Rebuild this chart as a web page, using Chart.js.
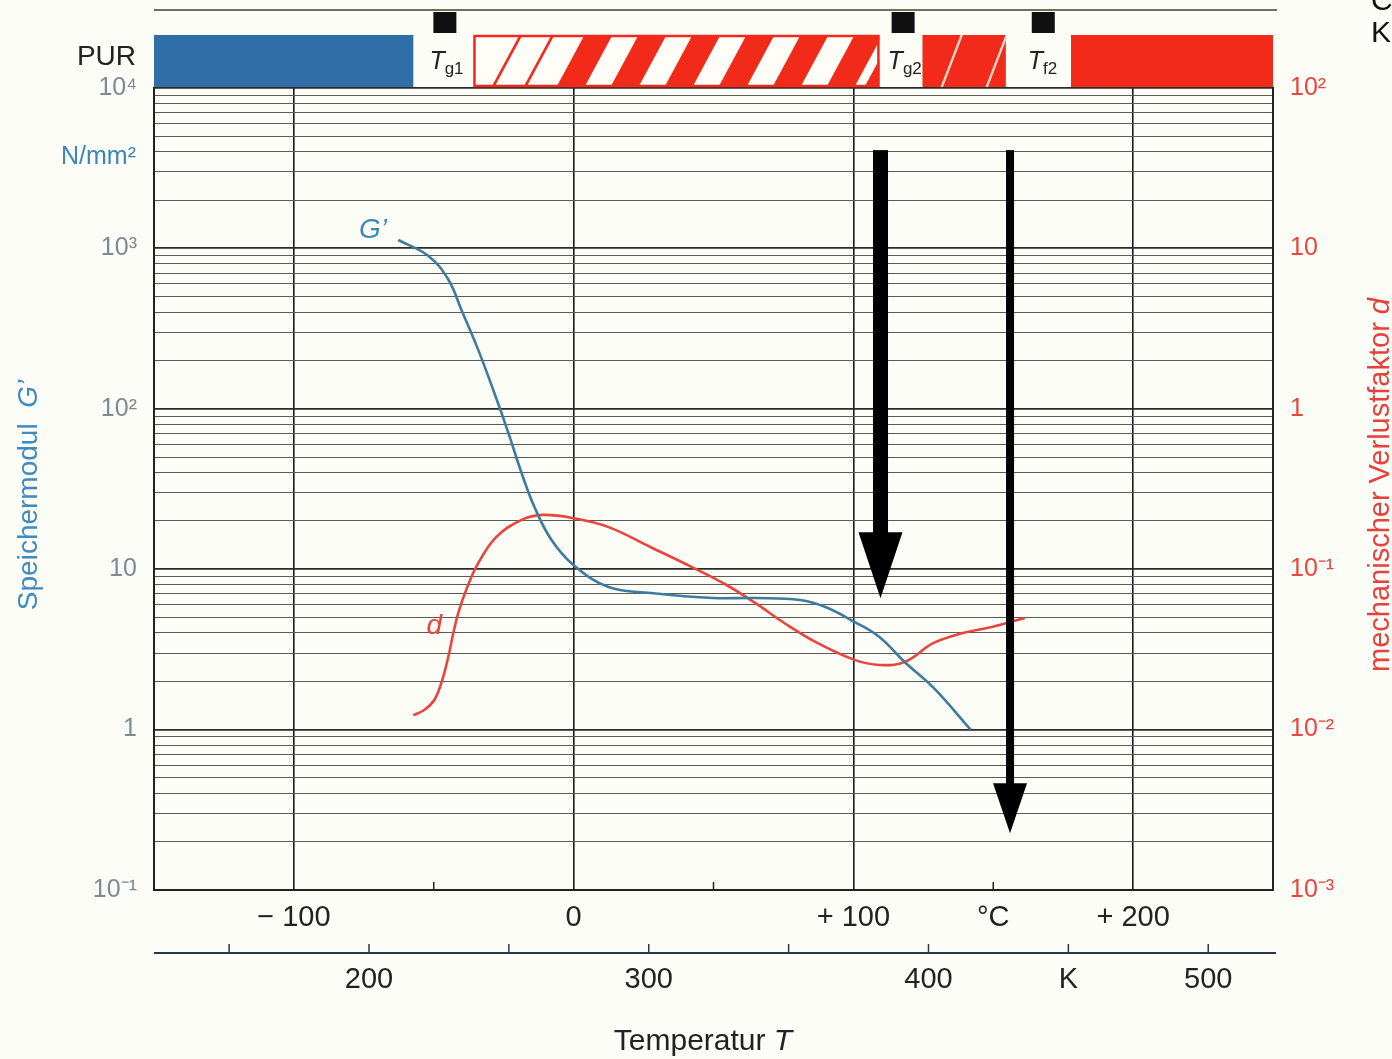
<!DOCTYPE html>
<html>
<head>
<meta charset="utf-8">
<script src="https://cdn.jsdelivr.net/npm/chart.js@4.4.1/dist/chart.umd.min.js"></script>
<style>
html, body { margin: 0; padding: 0; background: #fdfdf8; }
#wrap { width: 1392px; height: 1059px; position: relative; }
</style>
</head>
<body>
<div id="wrap"><canvas id="chart"></canvas></div>
<script>
// Speichermodul G' (N/mm2) over temperature (°C)
const gTemp = [-62.7, -52, -44.8, -40.1, -34.1, -28.3, -23.3, -18.6, -14, -7.9, 0, 12.5, 27.6, 49.8, 64.9, 81, 90, 100.4, 109.3, 118.3, 128.7, 141.9];
const gModul = [1128, 900, 640, 413, 233, 125, 70.6, 39.8, 24.4, 15.2, 10.6, 7.74, 7.11, 6.61, 6.61, 6.43, 5.81, 4.69, 3.78, 2.64, 1.82, 1.0];

// mechanischer Verlustfaktor d over temperature (°C)
const dTemp = [-57.3, -53.4, -49.8, -47.3, -44.8, -43, -40.9, -38, -34.1, -27.6, -18.6, -11.1, 0, 12.5, 27.6, 42.3, 54.5, 64.9, 75.3, 87.1, 100.4, 109.3, 118.3, 128.7, 139.1, 149.5, 161.3];
const dFaktor = [0.0123, 0.01325, 0.0153, 0.0195, 0.0284, 0.040, 0.0557, 0.0775, 0.109, 0.159, 0.203, 0.218, 0.208, 0.183, 0.137, 0.103, 0.080, 0.0616, 0.0462, 0.0347, 0.0272, 0.0253, 0.0264, 0.0347, 0.040, 0.0436, 0.0497];

// axis labels
const cTickValues = [-100, 0, 100, 150, 200];
const cTickLabels = ['\u2212 100', '0', '+ 100', '\u00b0C', '+ 200'];
const cMinorTicks = [-50, 50, 150];
const kTickValues = [150, 200, 250, 300, 350, 400, 450, 500];
const kLabelValues = [200, 300, 400, 450, 500];
const kLabels = ['200', '300', '400', 'K', '500'];
const gLabelValues = [10000, 1000, 100, 10, 1, 0.1];
const gLabels = ['10\u2074', '10\u00b3', '10\u00b2', '10', '1', '10\u207b\u00b9'];
const dLabelValues = [100, 10, 1, 0.1, 0.01, 0.001];
const dLabels = ['10\u00b2', '10', '1', '10\u207b\u00b9', '10\u207b\u00b2', '10\u207b\u00b3'];

// PUR state bar (°C) and transition temperatures
const phaseStart = [-150, -35.8, 124.7, 177.8];
const phaseEnd = [-57.3, 109.3, 154.5, 250];
const transT = [-46.2, 117.6, 167.7];
const transSub = ['g1', 'g2', 'f2'];

// arrows (°C, G')
const arrowT = [109.7, 156];
const arrowTop = [4100, 4100];
const arrowTip = [6.6, 0.226];

// curve labels
const gLabelPos = [-71.7, 1303];
const dLabelPos = [-49.8, 0.0443];

const FONT = "'Liberation Sans', Arial, Helvetica, sans-serif";
const RED = '#f22a1a';
const BLUE = '#2f6ea6';

const gridVals = [];
for (let e = -1; e < 4; e++) {
    for (let s = 1; s < 10; s++) gridVals.push(s * Math.pow(10, e));
}
gridVals.push(10000);
const xVals = [];
for (let t = -150; t <= 250; t += 50) xVals.push(t);

function isDecade(v) {
    const l = Math.log10(v);
    return Math.abs(l - Math.round(l)) < 1e-6;
}

function labelFor(values, labels, v) {
    for (let i = 0; i < values.length; i++) {
        if (Math.abs(values[i] - v) < 1e-9 * Math.max(1, Math.abs(v))) return labels[i];
    }
    return '';
}

// text in pieces (upright / italic / subscript)
function richText(ctx, parts, x, y, align) {
    let total = 0;
    for (let p of parts) { ctx.font = p.font; total += ctx.measureText(p.t).width; }
    let cx = align === 'center' ? x - total / 2 : x;
    ctx.textAlign = 'left';
    for (let p of parts) {
        ctx.font = p.font;
        ctx.fillText(p.t, cx, y + (p.dy || 0));
        cx += ctx.measureText(p.t).width;
    }
}

function stripe(ctx, bx, w, top, bot, slant) {
    ctx.beginPath();
    ctx.moveTo(bx, bot);
    ctx.lineTo(bx + w, bot);
    ctx.lineTo(bx + w + slant, top);
    ctx.lineTo(bx + slant, top);
    ctx.closePath();
    ctx.fill();
}

const decor = {
    id: 'decor',
    beforeDraw(chart) {
        const ctx = chart.ctx;
        ctx.save();
        ctx.fillStyle = '#fdfdf8';
        ctx.fillRect(0, 0, chart.width, chart.height);
        ctx.restore();
    },
    afterDatasetsDraw(chart) {
        const ctx = chart.ctx;
        const xs = chart.scales.x, ys = chart.scales.y, ys2 = chart.scales.y2;
        ctx.save();
        // arrows
        const shaftW = [15, 8], headW = [44, 34], headL = [66, 50];
        ctx.fillStyle = '#000';
        for (let i = 0; i < arrowT.length; i++) {
            const x = xs.getPixelForValue(arrowT[i]);
            const y0 = ys.getPixelForValue(arrowTop[i]);
            const y1 = ys.getPixelForValue(arrowTip[i]);
            ctx.fillRect(x - shaftW[i] / 2, y0, shaftW[i], y1 - headL[i] - y0 + 2);
            ctx.beginPath();
            ctx.moveTo(x - headW[i] / 2, y1 - headL[i]);
            ctx.lineTo(x + headW[i] / 2, y1 - headL[i]);
            ctx.lineTo(x, y1);
            ctx.closePath();
            ctx.fill();
        }
        // curve labels
        ctx.textBaseline = 'middle';
        ctx.textAlign = 'center';
        ctx.fillStyle = '#3f86b8';
        ctx.font = 'italic 28px ' + FONT;
        ctx.fillText("G\u2019", xs.getPixelForValue(gLabelPos[0]), ys.getPixelForValue(gLabelPos[1]));
        ctx.fillStyle = '#e8453c';
        ctx.fillText('d', xs.getPixelForValue(dLabelPos[0]), ys2.getPixelForValue(dLabelPos[1]));
        ctx.restore();
    },
    afterDraw(chart) {
        const ctx = chart.ctx;
        const xs = chart.scales.x;
        const area = chart.chartArea;
        ctx.save();

        // top line
        ctx.strokeStyle = '#6f6f60';
        ctx.lineWidth = 2;
        ctx.beginPath();
        ctx.moveTo(area.left, 10);
        ctx.lineTo(area.right + 4, 10);
        ctx.stroke();

        // state bar
        const top = 35, bot = 87, slant = 28;
        for (let i = 0; i < phaseStart.length; i++) {
            const x0 = xs.getPixelForValue(phaseStart[i]);
            const x1 = xs.getPixelForValue(phaseEnd[i]);
            if (i === 0) {
                ctx.fillStyle = BLUE;
                ctx.fillRect(x0, top, x1 - x0, bot - top);
            } else if (i === 1) {
                ctx.save();
                ctx.beginPath();
                ctx.rect(x0, top, x1 - x0, bot - top);
                ctx.clip();
                ctx.fillStyle = '#fffdf8';
                ctx.fillRect(x0, top, x1 - x0, bot - top);
                ctx.fillStyle = RED;
                stripe(ctx, x0 + 18, 3, top, bot, slant);
                stripe(ctx, x0 + 50, 3, top, bot, slant);
                for (let k = 0; k < 6; k++) stripe(ctx, x0 + 83 + 54 * k, 28, top, bot, slant);
                stripe(ctx, x0 + 391, 80, top, bot, slant);
                ctx.restore();
                ctx.strokeStyle = RED;
                ctx.lineWidth = 2.5;
                ctx.strokeRect(x0 + 1, top + 1, x1 - x0 - 2, bot - top - 2);
            } else if (i === 2) {
                ctx.fillStyle = RED;
                ctx.fillRect(x0, top, x1 - x0, bot - top);
                ctx.save();
                ctx.beginPath();
                ctx.rect(x0, top, x1 - x0, bot - top);
                ctx.clip();
                ctx.fillStyle = '#ffd9c8';
                stripe(ctx, x0 + 18, 2.5, top, bot, 20);
                stripe(ctx, x0 + 63, 2.5, top, bot, 20);
                ctx.restore();
            } else {
                ctx.fillStyle = RED;
                ctx.fillRect(x0, top, x1 - x0, bot - top);
            }
        }

        // transition markers
        for (let i = 0; i < transT.length; i++) {
            const x = xs.getPixelForValue(transT[i]);
            ctx.fillStyle = '#111';
            ctx.fillRect(x - 11, 12, 23, 21);
            ctx.fillStyle = '#222';
            ctx.textBaseline = 'alphabetic';
            richText(ctx, [
                {t: 'T', font: 'italic 25px ' + FONT},
                {t: transSub[i], font: '17px ' + FONT, dy: 5}
            ], x - 15, 69, 'left');
        }

        // PUR
        ctx.fillStyle = '#222';
        ctx.font = '28px ' + FONT;
        ctx.textAlign = 'right';
        ctx.textBaseline = 'middle';
        ctx.fillText('PUR', 136, 57);

        // unit
        ctx.fillStyle = '#3a86b8';
        ctx.font = '25px ' + FONT;
        ctx.fillText('N/mm\u00b2', 136, 157);

        // minor °C ticks
        ctx.strokeStyle = '#222';
        ctx.lineWidth = 1.5;
        for (let v of cMinorTicks) {
            const x = xs.getPixelForValue(v);
            ctx.beginPath();
            ctx.moveTo(x, area.bottom);
            ctx.lineTo(x, area.bottom - 8);
            ctx.stroke();
        }

        // Kelvin axis
        const ky = 953;
        ctx.strokeStyle = '#28384a';
        ctx.lineWidth = 2.2;
        ctx.beginPath();
        ctx.moveTo(area.left, ky);
        ctx.lineTo(area.right + 3, ky);
        ctx.stroke();
        ctx.lineWidth = 1.5;
        for (let k of kTickValues) {
            const x = xs.getPixelForValue(k - 273.15);
            ctx.beginPath();
            ctx.moveTo(x, ky);
            ctx.lineTo(x, ky - 9);
            ctx.stroke();
        }
        ctx.fillStyle = '#222';
        ctx.font = '29px ' + FONT;
        ctx.textAlign = 'center';
        ctx.textBaseline = 'middle';
        for (let i = 0; i < kLabelValues.length; i++) {
            ctx.fillText(kLabels[i], xs.getPixelForValue(kLabelValues[i] - 273.15), 980);
        }

        // x title
        ctx.textBaseline = 'middle';
        richText(ctx, [
            {t: 'Temperatur ', font: '30px ' + FONT},
            {t: 'T', font: 'italic 30px ' + FONT}
        ], 703, 1042, 'center');

        // left title
        ctx.save();
        ctx.translate(29, 495);
        ctx.rotate(-Math.PI / 2);
        ctx.fillStyle = '#3f8ac0';
        richText(ctx, [
            {t: 'Speichermodul  ', font: '28px ' + FONT},
            {t: "G\u2019", font: 'italic 28px ' + FONT}
        ], 0, 0, 'center');
        ctx.restore();

        // right title
        ctx.save();
        ctx.translate(1381, 485);
        ctx.rotate(-Math.PI / 2);
        ctx.fillStyle = '#e8403a';
        richText(ctx, [
            {t: 'mechanischer Verlustfaktor ', font: '29px ' + FONT},
            {t: 'd', font: 'italic 29px ' + FONT}
        ], 0, 0, 'center');
        ctx.restore();

        // clipped letters at the top right corner
        ctx.fillStyle = '#111';
        ctx.font = '30px ' + FONT;
        ctx.textBaseline = 'alphabetic';
        ctx.textAlign = 'left';
        ctx.fillText('C', 1371, 10);
        ctx.fillText('K', 1371, 42);

        ctx.restore();
    }
};

new Chart(document.getElementById('chart'), {
    type: 'line',
    data: {
        datasets: [
            {
                label: "G'",
                data: gTemp.map((t, i) => ({x: t, y: gModul[i]})),
                yAxisID: 'y',
                borderColor: '#3d7c9e',
                borderWidth: 2.6,
                pointRadius: 0,
                tension: 0.4
            },
            {
                label: 'd',
                data: dTemp.map((t, i) => ({x: t, y: dFaktor[i]})),
                yAxisID: 'y2',
                borderColor: '#e8453c',
                borderWidth: 2.6,
                pointRadius: 0,
                tension: 0.4
            }
        ]
    },
    options: {
        responsive: true,
        maintainAspectRatio: false,
        animation: false,
        layout: {padding: {top: 88, left: 0, right: 0, bottom: 0}},
        plugins: {legend: {display: false}, tooltip: {enabled: false}},
        scales: {
            x: {
                type: 'linear',
                min: -150,
                max: 250,
                afterFit: (s) => { s.height = 169; },
                afterBuildTicks: (s) => { s.ticks = xVals.map(v => ({value: v})); },
                ticks: {
                    autoSkip: false,
                    maxRotation: 0,
                    padding: 11,
                    color: '#222',
                    font: {size: 29, family: FONT},
                    callback: (v) => labelFor(cTickValues, cTickLabels, v)
                },
                grid: {
                    drawTicks: false,
                    color: (c) => (c.tick && c.tick.value % 100 === 0) ? '#1a1a1a' : 'rgba(0,0,0,0)',
                    lineWidth: 1.6
                },
                border: {color: '#222', width: 2}
            },
            y: {
                type: 'logarithmic',
                position: 'left',
                min: 0.1,
                max: 10000,
                afterFit: (s) => { s.width = 154; },
                afterBuildTicks: (s) => { s.ticks = gridVals.map(v => ({value: v})); },
                ticks: {
                    autoSkip: false,
                    padding: 17,
                    color: '#7a8b96',
                    font: {size: 25, family: FONT},
                    callback: (v) => labelFor(gLabelValues, gLabels, v)
                },
                grid: {
                    drawTicks: false,
                    color: (c) => (c.tick && isDecade(c.tick.value)) ? '#2a2a2a' : '#5a5a5a',
                    lineWidth: (c) => (c.tick && isDecade(c.tick.value)) ? 1.8 : 1.1
                },
                border: {color: '#222', width: 2}
            },
            y2: {
                type: 'logarithmic',
                position: 'right',
                min: 0.001,
                max: 100,
                afterFit: (s) => { s.width = 119; },
                afterBuildTicks: (s) => { s.ticks = dLabelValues.map(v => ({value: v})); },
                ticks: {
                    autoSkip: false,
                    padding: 17,
                    color: '#e8453c',
                    font: {size: 25, family: FONT},
                    callback: (v) => labelFor(dLabelValues, dLabels, v)
                },
                grid: {display: false, drawTicks: false},
                border: {color: '#222', width: 2}
            }
        }
    },
    plugins: [decor]
});
</script>
</body>
</html>
